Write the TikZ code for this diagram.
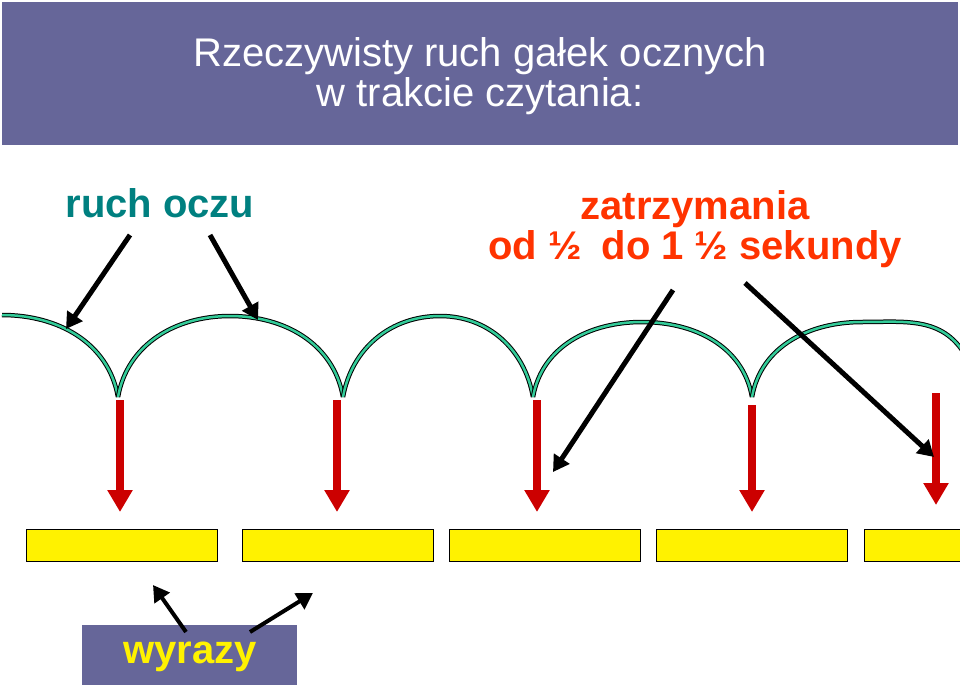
\documentclass[tikz,border=0pt]{standalone}
\usepackage{fontspec}
\setmainfont{Liberation Sans}
\usetikzlibrary{arrows.meta}
\definecolor{band}{HTML}{666699}
\definecolor{eyeg}{HTML}{33CC99}
\definecolor{tealt}{HTML}{008080}
\definecolor{orng}{HTML}{FF3300}
\definecolor{redd}{HTML}{CC0000}
\begin{document}
\begin{tikzpicture}[x=1pt,y=-1pt,
  blk/.style={-{Triangle[length=16pt,width=18pt]},line width=5pt,black},
  rd/.style={-{Triangle[length=22pt,width=24pt]},line width=8pt,redd,shorten >=0pt},
  wrd/.style={draw=black,fill=yellow,line width=1pt,minimum width=191pt,minimum height=32pt,anchor=north west,inner sep=0pt},
  eye/.style={draw=black,double=eyeg,double distance=2.5pt,line width=1pt},
  big/.style={font=\fontsize{40}{44}\selectfont}]
\useasboundingbox (0,0) rectangle (960,690);
\fill[band] (2,2) rectangle (958,145);
\node[big,white,align=center] (title) at (480,76) {Rzeczywisty ruch gałek ocznych\\[-4pt]w trakcie czytania:};
\node[big,tealt,font=\fontsize{40}{44}\selectfont\bfseries] (ruch) at (160,203) {ruch oczu};
\node[big,orng,font=\fontsize{40}{44}\selectfont\bfseries,align=center] (zat) at (695,229) {zatrzymania\\[-4pt]od ½\enspace do 1 ½ sekundy};
% arcs
\coordinate (c1) at (118,397);\coordinate (c2) at (343,397);\coordinate (c3) at (533,397);\coordinate (c4) at (752,397);
\coordinate (l0) at (2,315);\coordinate (r0) at (962,350);
\draw[eye] (l0) to[out=0,in=100] (c1);
\draw[eye] (c1) to[out=80,in=180] (230,316) to[out=0,in=100] (c2);
\draw[eye] (c2) to[out=80,in=180] (440,316) to[out=0,in=100] (c3);
\draw[eye] (c3) to[out=80,in=180] (642,322) to[out=0,in=100] (c4);
\draw[eye] (c4) to[out=80,in=180] (862,322) to[out=0,in=125] (r0);
% red arrows
\foreach \x/\a/\b [count=\i] in {120/400/512,337/400/512,537/400/512,752/405/512,936/393/505}{
  \coordinate (rs\i) at (\x,\a); \coordinate (re\i) at (\x,\b);
  \draw[rd] (rs\i) -- (re\i);}
% words
\node[wrd] (w1) at (26,529) {};
\node[wrd] (w2) at (242,529) {};
\node[wrd] (w3) at (449,529) {};
\node[wrd] (w4) at (656,529) {};
\node[wrd,minimum width=100pt] (w5) at (864,529) {};
% black arrows
\coordinate (a1s) at (130,235);\coordinate (a1e) at (66,329);
\coordinate (a2s) at (210,235);\coordinate (a2e) at (258,320);
\coordinate (a3s) at (673,290);\coordinate (a3e) at (553,472);
\coordinate (a4s) at (745,283);\coordinate (a4e) at (934,457);
\draw[blk] (a1s) -- (a1e);\draw[blk] (a2s) -- (a2e);
\draw[blk] (a3s) -- (a3e);\draw[blk] (a4s) -- (a4e);
% wyrazy
\node[fill=band,minimum width=215pt,minimum height=60pt,inner sep=0pt,anchor=north west] (wy) at (82,625) {};
\node[yellow,font=\fontsize{40}{44}\selectfont\bfseries] (wyt) at (190,657) {wyrazy};
\coordinate (b1s) at (186,632);\coordinate (b1e) at (153,585);
\coordinate (b2s) at (250,632);\coordinate (b2e) at (313,593);
\draw[blk,line width=4pt] (b1s) -- (b1e);\draw[blk,line width=4pt] (b2s) -- (b2e);
\end{tikzpicture}
\end{document}
